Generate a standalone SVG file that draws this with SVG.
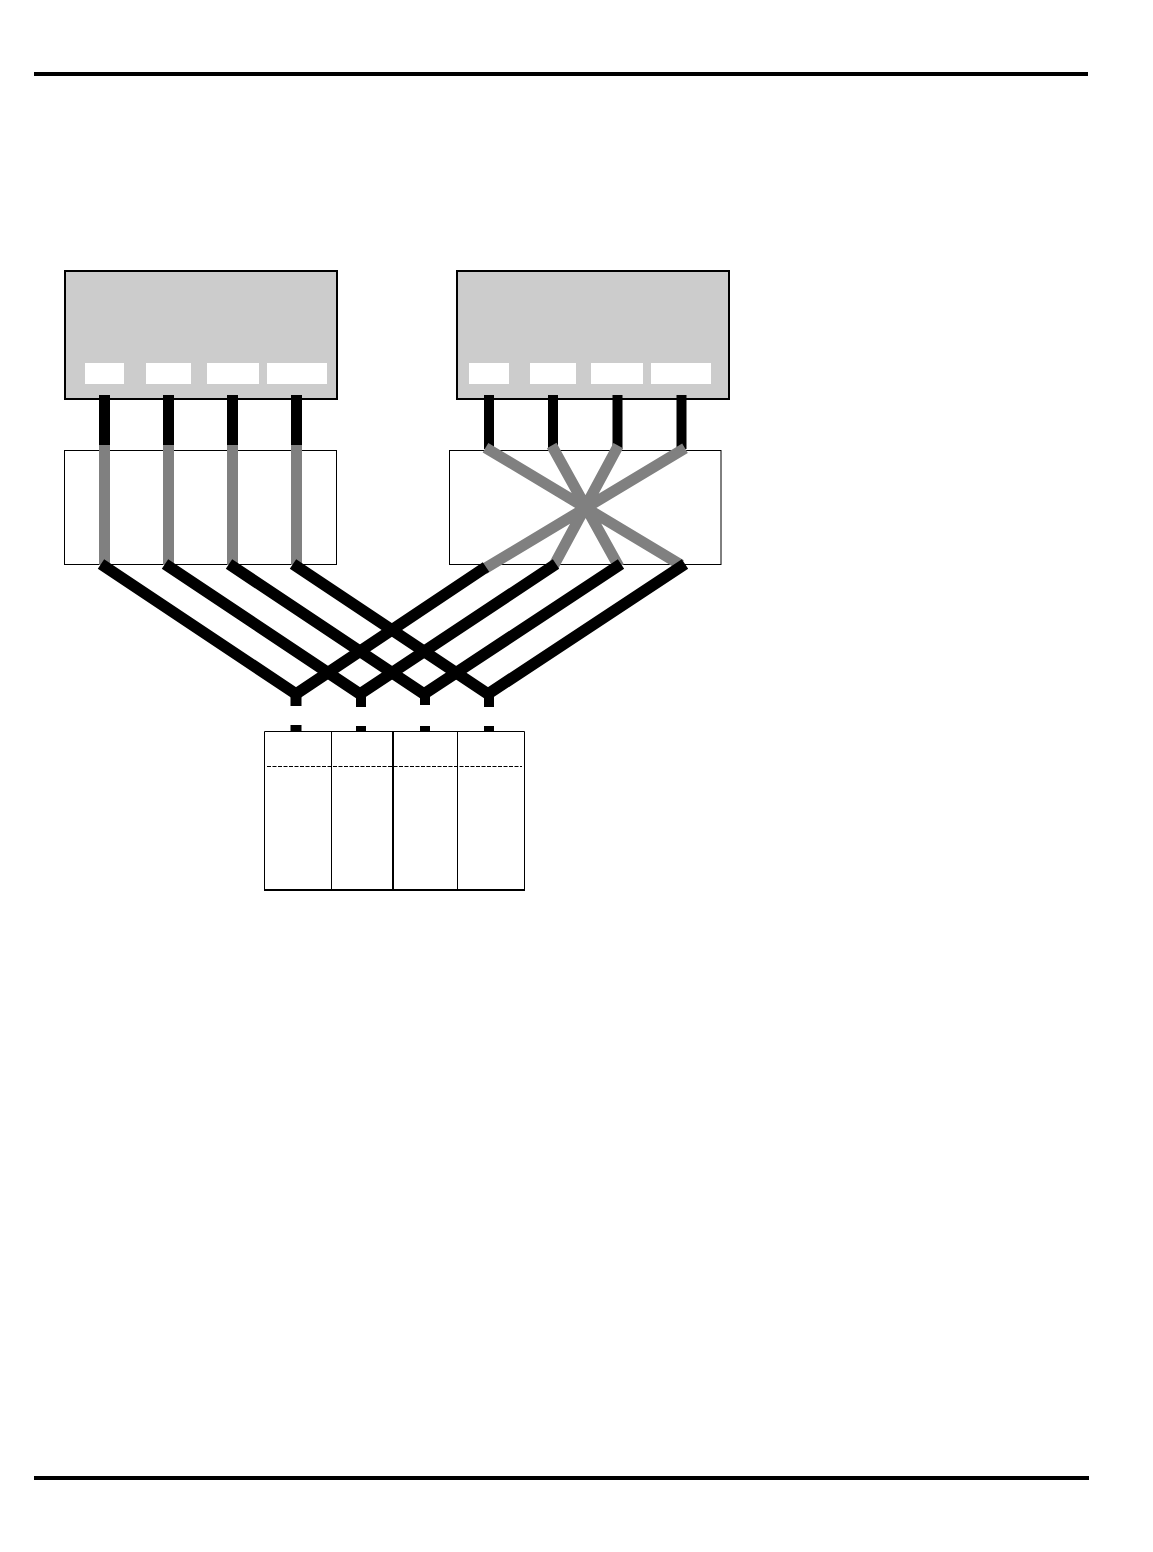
<svg xmlns="http://www.w3.org/2000/svg" width="1153" height="1552" viewBox="0 0 1153 1552">
<style>
.rule{stroke:#000;stroke-width:4;fill:none}
.dev{fill:#ccc;stroke:#000;stroke-width:2}
.port{fill:#fff}
.box{fill:#fff;stroke:#000;stroke-width:1}
.k{stroke:#000;stroke-width:11;fill:none}
.kd{stroke:#000;stroke-width:10;fill:none}
.kx{stroke:#000;stroke-width:11.500;fill:none}
.g{stroke:#808080;stroke-width:11;fill:none}
.gd{stroke:#808080;stroke-width:11;fill:none}
.t{stroke:#000;stroke-width:1;fill:none}
</style>
<rect width="1153" height="1552" fill="#fff"/>
<g id="page-rules">
<line class="rule" x1="34" y1="74" x2="1088" y2="74"/>
<line class="rule" x1="34" y1="1478" x2="1089" y2="1478"/>
</g>
<g id="device-left">
<rect class="dev" x="65" y="271" width="272" height="128"/>
<rect class="port" x="85" y="363" width="39" height="21"/>
<rect class="port" x="146" y="363" width="45" height="21"/>
<rect class="port" x="207" y="363" width="52" height="21"/>
<rect class="port" x="267" y="363" width="60" height="21"/>
</g>
<g id="device-right">
<rect class="dev" x="457" y="271" width="272" height="128"/>
<rect class="port" x="469" y="363" width="40" height="21"/>
<rect class="port" x="530" y="363" width="46" height="21"/>
<rect class="port" x="591" y="363" width="52" height="21"/>
<rect class="port" x="651" y="363" width="60" height="21"/>
</g>
<g id="switch-left"><rect class="box" x="64.500" y="450.500" width="272" height="114"/></g>
<g id="switch-right"><rect class="box" x="449.500" y="450.500" width="271.500" height="114"/></g>
<g id="table">
<rect x="264.500" y="731.500" width="260" height="158" fill="#fff"/>
<path class="t" d="M264.500 731.500H524.500V889.500M264.500 731.500V889.500M331.500 731.500V889.500M457.500 731.500V889.500"/>
<line x1="264" y1="890" x2="525" y2="890" stroke="#000" stroke-width="2"/>
<line x1="393" y1="731" x2="393" y2="890" stroke="#000" stroke-width="2"/>
<line x1="267" y1="766.500" x2="522" y2="766.500" stroke="#000" stroke-width="1" stroke-dasharray="4 1.500"/>
</g>
<g id="connectors">
<path class="k" d="M104.500 395V445M168.500 395V445M232.500 395V445M296.500 395V445"/>
<path class="g" d="M104.500 445V565M168.500 445V565M232.500 445V565M296.500 445V565"/>
<path class="kd" d="M489 395V449M553 395V449M617.500 395V449M681.500 395V449"/>
<path class="gd" d="M485.500 447.700L681 565M551.700 445.500L619 567M618.300 445.700L553 567M685 448.300L484 569"/>
<path class="kx" d="M101 564L296 694M165 564L360 694M229 564L424 694M293 564L488 694"/>
<path class="kx" d="M486 567L296 694M556 564L360 694M621 564L424 694M685 564L488 694"/>
<path class="k" d="M296 692V706M296 725V732"/>
<path class="kd" d="M361 692V707M361 726V732M425 692V705M425 726V732M489 692V707M489 726V732"/>
</g>
</svg>
